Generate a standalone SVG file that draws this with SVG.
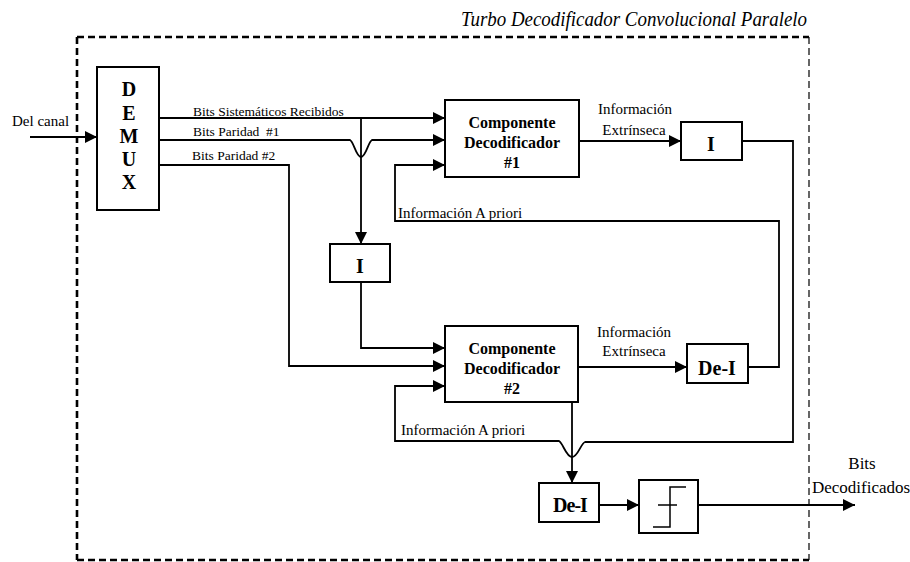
<svg xmlns="http://www.w3.org/2000/svg" width="910" height="562" viewBox="0 0 910 562" font-family="'Liberation Serif', 'Times New Roman', 'DejaVu Serif', serif">
<style>
.box{fill:#fff;stroke:#000;stroke-width:2}
.ln{fill:none;stroke:#000;stroke-width:1.8}
.thin{fill:none;stroke:#000;stroke-width:1.5}
text{font-family:'Liberation Serif','Times New Roman','DejaVu Serif',serif;fill:#000}
.lbl{font-size:15px}
.sm{font-size:13.5px}
.bl{font-weight:bold;font-size:16px;text-anchor:middle}
.bx{font-weight:bold;font-size:20px;text-anchor:middle}
.dk{fill:none;stroke:#000;stroke-width:2.6;stroke-dasharray:7,4}
.dt{fill:none;stroke:#000;stroke-width:1.2;stroke-dasharray:7,4}
</style>
<defs>
<marker id="ah" markerUnits="userSpaceOnUse" markerWidth="12" markerHeight="12" refX="12" refY="6" orient="auto">
<path d="M0,0 L12,6 L0,12 z" fill="#000"/>
</marker>
</defs>
<rect width="910" height="562" fill="#fff"/>

<g id="frame">
<line class="dk" x1="77" y1="37" x2="809" y2="37"/>
<line class="dk" x1="77" y1="37" x2="77" y2="560"/>
<line class="dk" x1="77" y1="560" x2="809" y2="560"/>
<line class="dt" x1="809" y1="37" x2="809" y2="560"/>
<text x="807" y="26" font-size="20" font-style="italic" text-anchor="end" textLength="346" lengthAdjust="spacingAndGlyphs">Turbo Decodificador Convolucional Paralelo</text>
</g>

<g id="connectors">
<line class="ln" x1="30" y1="137" x2="97" y2="137" marker-end="url(#ah)"/>
<line class="ln" x1="159" y1="118" x2="445" y2="118" marker-end="url(#ah)"/>
<line class="ln" x1="361" y1="118" x2="361" y2="244" marker-end="url(#ah)"/>
<path class="ln" d="M159,140 H350 C354,142 356,157 361,157 C366,157 368,142 372,140 H445" marker-end="url(#ah)"/>
<path class="ln" d="M159,165 H289 V366 H445" marker-end="url(#ah)"/>
<line class="ln" x1="579" y1="141" x2="681" y2="141" marker-end="url(#ah)"/>
<path class="ln" d="M742,141 H793 V442 H585 C581,443 578,457 572,457 C566,457 563,443 559,441 H395 V386 H445" marker-end="url(#ah)"/>
<path class="ln" d="M361,282 V348 H445" marker-end="url(#ah)"/>
<line class="ln" x1="578" y1="367" x2="687" y2="367" marker-end="url(#ah)"/>
<path class="ln" d="M748,367 H779 V221 H395 V165 H445" marker-end="url(#ah)"/>
<line class="ln" x1="572" y1="402" x2="572" y2="483" marker-end="url(#ah)"/>
<line class="ln" x1="599" y1="505" x2="639" y2="505" marker-end="url(#ah)"/>
<line class="ln" x1="698" y1="505" x2="855" y2="505" marker-end="url(#ah)"/>
<text class="lbl" x="12" y="126">Del canal</text>
<text class="sm" x="193" y="116">Bits Sistemáticos Recibidos</text>
<text class="sm" x="193" y="136" xml:space="preserve">Bits Paridad  #1</text>
<text class="sm" x="192" y="160">Bits Paridad #2</text>
<text class="lbl" x="635" y="114" text-anchor="middle">Información</text>
<text class="lbl" x="634" y="135" text-anchor="middle">Extrínseca</text>
<text class="lbl" x="398" y="218">Información A priori</text>
<text class="lbl" x="634" y="337" text-anchor="middle">Información</text>
<text class="lbl" x="634" y="356" text-anchor="middle">Extrínseca</text>
<text class="lbl" x="401" y="435">Información A priori</text>
<text x="862" y="469" font-size="17" text-anchor="middle">Bits</text>
<text x="861" y="493" font-size="17" text-anchor="middle">Decodificados</text>
</g>

<g id="demux">
<rect class="box" x="97" y="67" width="62" height="143"/>
<text class="bx" x="129" y="96" font-size="19">D</text>
<text class="bx" x="129" y="120" font-size="19">E</text>
<text class="bx" x="129" y="143" font-size="19">M</text>
<text class="bx" x="129" y="166" font-size="19">U</text>
<text class="bx" x="129" y="189" font-size="19">X</text>
</g>

<g id="decoder1">
<rect class="box" x="445" y="100" width="134" height="77"/>
<text class="bl" x="512" y="128">Componente</text>
<text class="bl" x="512" y="148">Decodificador</text>
<text class="bl" x="512" y="168">#1</text>
</g>

<g id="interleaver1">
<rect class="box" x="681" y="122" width="61" height="38"/>
<text class="bx" x="711" y="151">I</text>
</g>

<g id="interleaver2">
<rect class="box" x="330" y="244" width="60" height="38"/>
<text class="bx" x="360" y="273">I</text>
</g>

<g id="decoder2">
<rect class="box" x="445" y="326" width="133" height="76"/>
<text class="bl" x="512" y="354">Componente</text>
<text class="bl" x="512" y="374">Decodificador</text>
<text class="bl" x="512" y="394">#2</text>
</g>

<g id="deinterleaver1">
<rect class="box" x="687" y="344" width="61" height="39"/>
<text class="bx" x="717" y="375" font-size="19">De-I</text>
</g>

<g id="deinterleaver2">
<rect class="box" x="539" y="483" width="60" height="39"/>
<text class="bx" x="570" y="512" font-size="17" letter-spacing="-1">De-I</text>
</g>

<g id="threshold">
<rect class="box" x="639" y="480" width="59" height="53"/>
<path class="thin" d="M653,527 H670 V487 H686 M658,505 H677"/>
</g>
</svg>
